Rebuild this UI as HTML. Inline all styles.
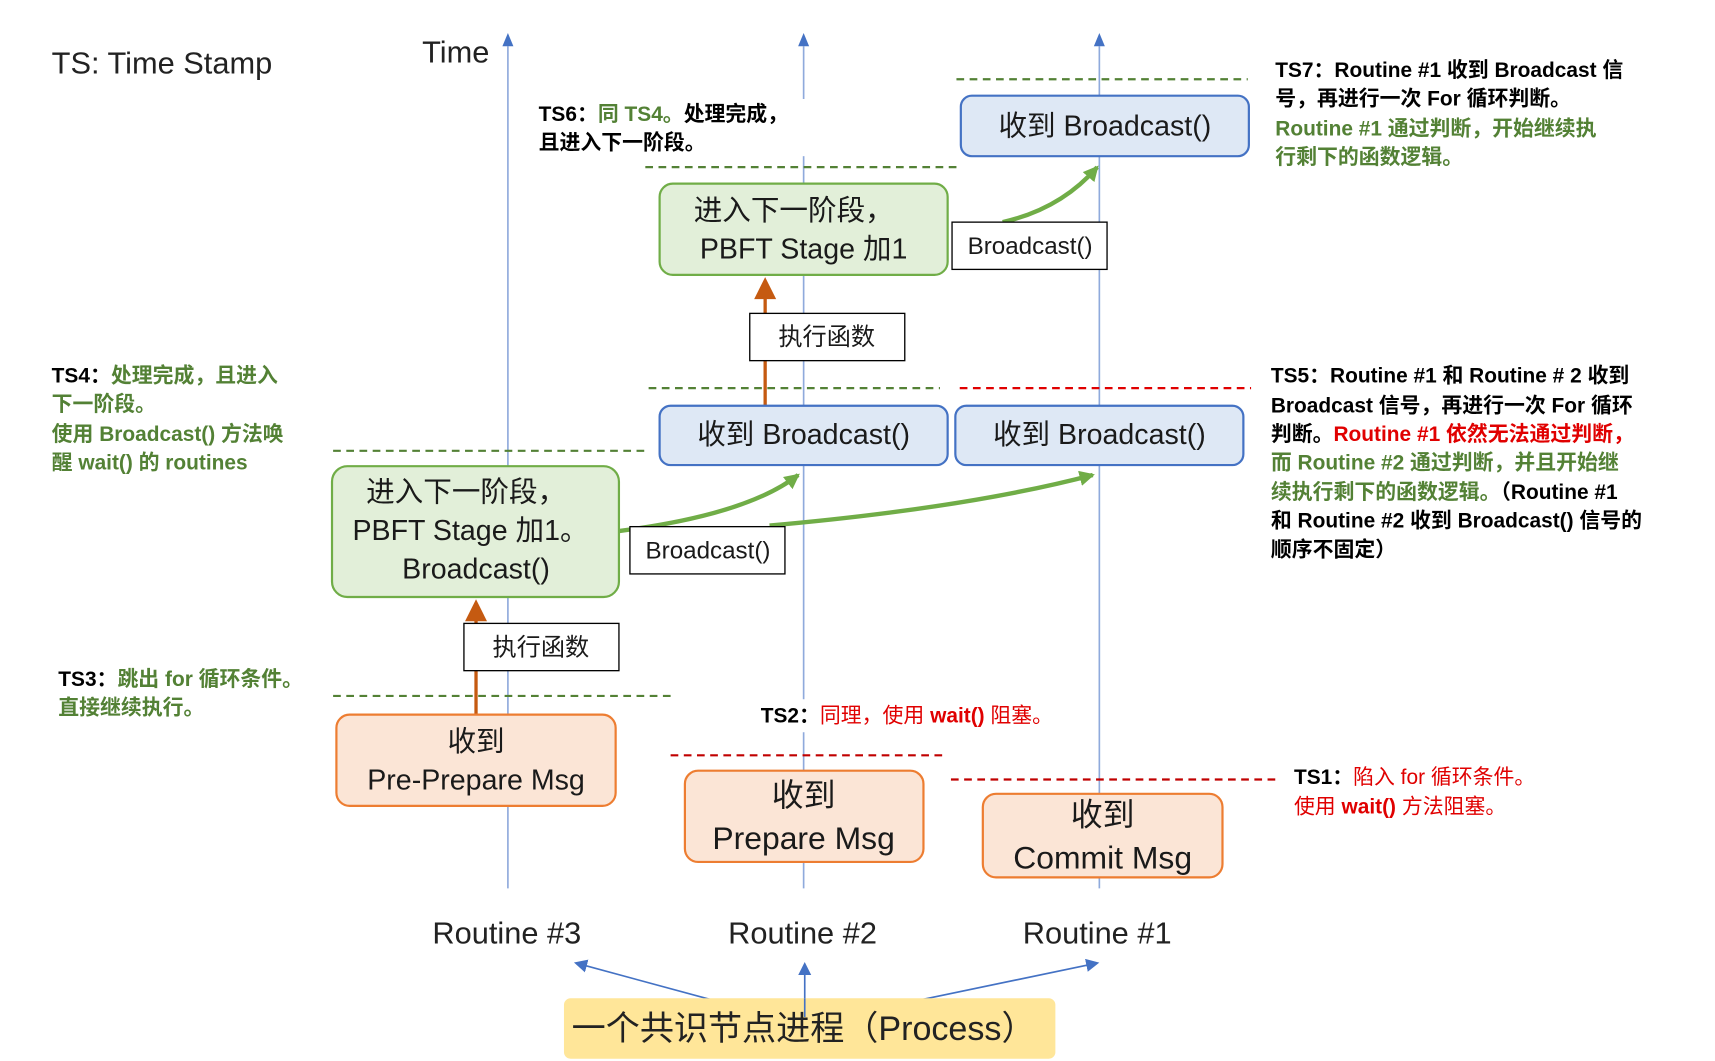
<!DOCTYPE html>
<html><head><meta charset="utf-8"><style>
html,body{margin:0;padding:0;background:#fff;}
svg{display:block;}
text{font-family:"Liberation Sans","Noto Sans CJK SC",sans-serif;}
.b{font-weight:bold;font-size:19px;}
.k{fill:#000}.g{fill:#538135}.r{fill:#e00000}
.bx{font-size:26px;fill:#1a1a1a;}
.sm{font-size:22px;fill:#1a1a1a;}
</style></head><body>
<svg width="1715" height="1061" viewBox="0 0 1560 965" xmlns="http://www.w3.org/2000/svg">
<defs>
<marker id="ab" markerWidth="10" markerHeight="10" refX="5" refY="8" orient="auto-start-reverse" markerUnits="userSpaceOnUse" viewBox="0 0 10 10"><path d="M0,10 L5,0 L10,10 z" fill="#4472c4"/></marker>
<marker id="ab2" markerWidth="12" markerHeight="12" refX="10" refY="6" orient="auto" markerUnits="userSpaceOnUse"><path d="M0,0 L12,6 L0,12 z" fill="#4472c4"/></marker>
<marker id="ag" markerWidth="14" markerHeight="14" refX="12" refY="7" orient="auto" markerUnits="userSpaceOnUse"><path d="M0,0 L14,7 L0,14 z" fill="#70ad47"/></marker>
</defs>
<rect width="1560" height="965" fill="#fff"/>
<!-- time lines -->
<g stroke="#8faadc" stroke-width="1.5">
<line x1="462" y1="42" x2="462" y2="808"/>
<line x1="731" y1="42" x2="731" y2="808"/>
<line x1="1000" y1="42" x2="1000" y2="808"/>
</g>
<path d="M457,42 L462,30 L467,42 z" fill="#4472c4"/>
<path d="M726,42 L731,30 L736,42 z" fill="#4472c4"/>
<path d="M995,42 L1000,30 L1005,42 z" fill="#4472c4"/>
<text x="47" y="67" font-size="28" fill="#222">TS: Time Stamp</text>
<text x="384" y="57" font-size="28" fill="#222">Time</text>
<!-- dashed lines -->
<g stroke-width="2" stroke-dasharray="7,5" fill="none">
<line x1="870" y1="72" x2="1135" y2="72" stroke="#538135"/>
<line x1="587" y1="152" x2="873" y2="152" stroke="#538135"/>
<line x1="590" y1="353" x2="855" y2="353" stroke="#538135"/>
<line x1="873" y1="353" x2="1138" y2="353" stroke="#e00000"/>
<line x1="303" y1="410" x2="590" y2="410" stroke="#538135"/>
<line x1="303" y1="633" x2="615" y2="633" stroke="#538135"/>
<line x1="610" y1="687" x2="862" y2="687" stroke="#c00000"/>
<line x1="865" y1="709" x2="1162" y2="709" stroke="#c00000"/>
</g>
<!-- TS6 text bg -->
<rect x="488" y="90" width="250" height="52" fill="#fff"/>
<text class="b" x="490" y="110"><tspan class="k">TS6：</tspan><tspan class="g">同 TS4。</tspan><tspan class="k">处理完成，</tspan></text>
<text class="b k" x="490" y="136">且进入下一阶段。</text>
<!-- boxes -->
<rect x="874" y="87" width="262" height="55" rx="10" fill="#dee8f5" stroke="#4472c4" stroke-width="2"/>
<text class="bx" x="1005" y="123" text-anchor="middle">收到 Broadcast()</text>
<rect x="600" y="167" width="262" height="83" rx="12" fill="#e2efd9" stroke="#70ad47" stroke-width="2"/>
<text class="bx" x="722" y="200" text-anchor="middle">进入下一阶段，</text>
<text class="bx" x="731" y="235" text-anchor="middle">PBFT Stage 加1</text>
<!-- orange arrows -->
<line x1="696" y1="369" x2="696" y2="270" stroke="#c55a11" stroke-width="3"/>
<path d="M686,272 L696,252 L706,272 z" fill="#c55a11"/>
<line x1="433" y1="650" x2="433" y2="563" stroke="#c55a11" stroke-width="3"/>
<path d="M423,565 L433,545 L443,565 z" fill="#c55a11"/>
<rect x="682" y="285" width="141" height="43" fill="#fff" stroke="#000" stroke-width="1.2"/>
<text class="sm" x="752" y="314" text-anchor="middle">执行函数</text>
<rect x="600" y="369" width="262" height="54" rx="10" fill="#dee8f5" stroke="#4472c4" stroke-width="2"/>
<text class="bx" x="731" y="404" text-anchor="middle">收到 Broadcast()</text>
<rect x="869" y="369" width="262" height="54" rx="10" fill="#dee8f5" stroke="#4472c4" stroke-width="2"/>
<text class="bx" x="1000" y="404" text-anchor="middle">收到 Broadcast()</text>
<rect x="302" y="424" width="261" height="119" rx="14" fill="#e2efd9" stroke="#70ad47" stroke-width="2"/>
<text class="bx" x="424" y="456" text-anchor="middle">进入下一阶段，</text>
<text class="bx" x="428" y="491" text-anchor="middle">PBFT Stage 加1。</text>
<text class="bx" x="433" y="526" text-anchor="middle">Broadcast()</text>
<!-- green curves -->
<g stroke="#70ad47" stroke-width="4" fill="none">
<path d="M912,202 Q965,190 998,152" marker-end="url(#ag)"/>
<path d="M563,483 Q680,468 726,432" marker-end="url(#ag)"/>
<path d="M700,478 Q880,462 994,432" marker-end="url(#ag)"/>
</g>
<rect x="866" y="202" width="141" height="43" fill="#fff" stroke="#000" stroke-width="1.2"/>
<text class="sm" x="937" y="231" text-anchor="middle">Broadcast()</text>
<rect x="573" y="479" width="141" height="43" fill="#fff" stroke="#000" stroke-width="1.2"/>
<text class="sm" x="644" y="508" text-anchor="middle">Broadcast()</text>
<rect x="422" y="567" width="141" height="43" fill="#fff" stroke="#000" stroke-width="1.2"/>
<text class="sm" x="492" y="596" text-anchor="middle">执行函数</text>
<!-- orange boxes -->
<rect x="306" y="650" width="254" height="83" rx="12" fill="#fbe5d6" stroke="#ed7d31" stroke-width="2"/>
<text class="bx" x="433" y="683" text-anchor="middle">收到</text>
<text class="bx" x="433" y="718" text-anchor="middle">Pre-Prepare Msg</text>
<rect x="623" y="701" width="217" height="83" rx="12" fill="#fbe5d6" stroke="#ed7d31" stroke-width="2"/>
<text class="bx" x="731" y="733" font-size="29" text-anchor="middle" style="font-size:29px">收到</text>
<text class="bx" x="731" y="772" text-anchor="middle" style="font-size:29px">Prepare Msg</text>
<rect x="894" y="722" width="218" height="76" rx="12" fill="#fbe5d6" stroke="#ed7d31" stroke-width="2"/>
<text class="bx" x="1003" y="751" text-anchor="middle" style="font-size:29px">收到</text>
<text class="bx" x="1003" y="790" text-anchor="middle" style="font-size:29px">Commit Msg</text>
<!-- routine labels -->
<text x="461" y="858" font-size="28" fill="#222" text-anchor="middle">Routine #3</text>
<text x="730" y="858" font-size="28" fill="#222" text-anchor="middle">Routine #2</text>
<text x="998" y="858" font-size="28" fill="#222" text-anchor="middle">Routine #1</text>
<!-- process -->
<g stroke="#4472c4" stroke-width="1.5">
<line x1="657" y1="912" x2="524" y2="876" marker-end="url(#ab2)"/>
<line x1="732" y1="912" x2="732" y2="877" marker-end="url(#ab2)"/>
<line x1="825" y1="912" x2="998" y2="876" marker-end="url(#ab2)"/>
</g>
<rect x="513" y="908" width="447" height="55" rx="6" fill="#ffe699"/>
<line x1="732" y1="908" x2="732" y2="925" stroke="#4472c4" stroke-width="1.5"/>
<text x="520" y="946" font-size="31" fill="#222">一个共识节点进程（Process）</text>
<!-- annotations -->
<text class="b" x="1160" y="70"><tspan class="k">TS7：Routine #1 收到 Broadcast 信</tspan></text>
<text class="b k" x="1160" y="96">号，再进行一次 For 循环判断。</text>
<text class="b g" x="1160" y="123">Routine #1 通过判断，开始继续执</text>
<text class="b g" x="1160" y="149">行剩下的函数逻辑。</text>
<text class="b" x="47" y="348"><tspan class="k">TS4：</tspan><tspan class="g">处理完成，且进入</tspan></text>
<text class="b g" x="47" y="374">下一阶段。</text>
<text class="b g" x="47" y="401">使用 Broadcast() 方法唤</text>
<text class="b g" x="47" y="427">醒 wait() 的 routines</text>
<text class="b k" x="1156" y="348">TS5：Routine #1 和 Routine # 2 收到</text>
<text class="b k" x="1156" y="375">Broadcast 信号，再进行一次 For 循环</text>
<text class="b" x="1156" y="401"><tspan class="k">判断。</tspan><tspan class="r">Routine #1 依然无法通过判断，</tspan></text>
<text class="b g" x="1156" y="427">而 Routine #2 通过判断，并且开始继</text>
<text class="b" x="1156" y="454"><tspan class="g">续执行剩下的函数逻辑。</tspan><tspan class="k">（Routine #1</tspan></text>
<text class="b k" x="1156" y="480">和 Routine #2 收到 Broadcast() 信号的</text>
<text class="b k" x="1156" y="506">顺序不固定）</text>
<text class="b" x="53" y="624"><tspan class="k">TS3：</tspan><tspan class="g">跳出 for 循环条件。</tspan></text>
<text class="b g" x="53" y="650">直接继续执行。</text>
<rect x="688" y="636" width="300" height="30" fill="#fff"/>
<text class="b" x="692" y="657"><tspan class="k">TS2：</tspan><tspan class="r" style="font-weight:normal">同理，使用 </tspan><tspan class="r">wait()</tspan><tspan class="r" style="font-weight:normal"> 阻塞。</tspan></text>
<text class="b" x="1177" y="713"><tspan class="k">TS1：</tspan><tspan class="r" style="font-weight:normal">陷入 for 循环条件。</tspan></text>
<text class="b r" x="1177" y="740"><tspan style="font-weight:normal">使用 </tspan>wait()<tspan style="font-weight:normal"> 方法阻塞。</tspan></text>
</svg>
</body></html>
